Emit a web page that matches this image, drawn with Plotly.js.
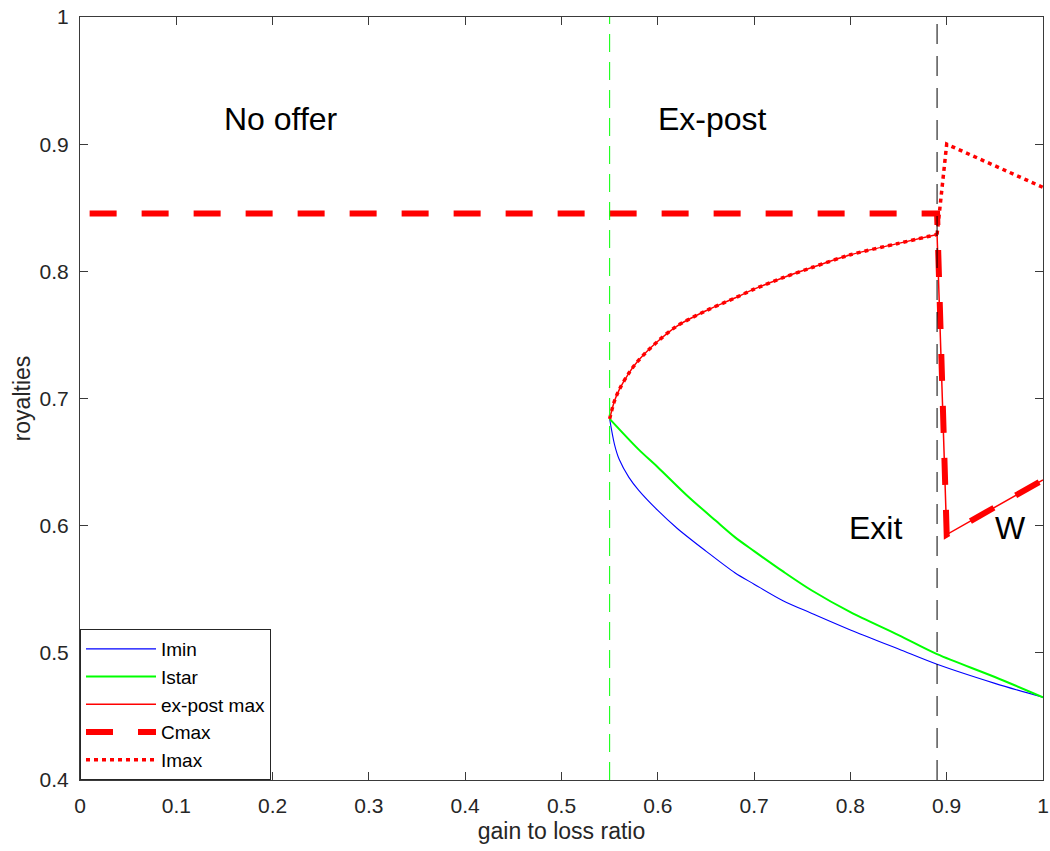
<!DOCTYPE html>
<html>
<head>
<meta charset="utf-8">
<script src="https://cdn.plot.ly/plotly-3.0.1.min.js"></script>
<style>html,body{margin:0;padding:0;background:#fff;}#chart{width:1050px;height:851px;}</style>
</head>
<body>
<div id="chart"></div>
<script>
// ---- data ----
const iminX = [0.55, 0.555, 0.56, 0.57, 0.58, 0.60, 0.62, 0.65, 0.68, 0.70, 0.73, 0.76, 0.80, 0.85, 0.89, 0.95, 1.00];
const iminY = [0.684, 0.664, 0.652, 0.638, 0.628, 0.612, 0.598, 0.580, 0.563, 0.554, 0.541, 0.531, 0.518, 0.503, 0.491, 0.476, 0.465];

const istarX = [0.55, 0.58, 0.60, 0.63, 0.66, 0.68, 0.70, 0.73, 0.76, 0.80, 0.85, 0.89, 0.95, 1.00];
const istarY = [0.684, 0.660, 0.646, 0.624, 0.604, 0.591, 0.580, 0.564, 0.549, 0.532, 0.514, 0.499, 0.481, 0.465];

const upperX = [0.55, 0.555, 0.56, 0.57, 0.58, 0.60, 0.62, 0.65, 0.68, 0.70, 0.73, 0.76, 0.80, 0.85, 0.89];
const upperY = [0.684, 0.698, 0.707, 0.720, 0.730, 0.745, 0.757, 0.769, 0.779, 0.786, 0.795, 0.803, 0.813, 0.822, 0.829];

const expostTailX = [0.89, 0.90, 1.00];
const expostTailY = [0.829, 0.593, 0.636];

const imaxTailX = [0.89, 0.90, 1.00];
const imaxTailY = [0.829, 0.900, 0.866];

const cmaxX = [0.01, 0.89, 0.90, 1.00];
const cmaxY = [0.8455, 0.8455, 0.593, 0.636];

const boundaryX = [0.55, 0.89];
const yRange = [0.4, 1];

const regionLabels = ["No offer", "Ex-post", "Exit", "W"];
const regionLabelX = [0.209, 0.657, 0.826, 0.966];
const regionLabelY = [0.92, 0.92, 0.598, 0.598];

const xTicks = [0, 0.1, 0.2, 0.3, 0.4, 0.5, 0.6, 0.7, 0.8, 0.9, 1];
const yTicks = [0.4, 0.5, 0.6, 0.7, 0.8, 0.9, 1];

// ---- traces ----
const FONT = '"Liberation Sans", Arial, Helvetica, sans-serif';
const RED = 'rgb(255,0,0)';
const smooth = {shape: 'spline', smoothing: 0.9};
const traces = [
  {x: iminX, y: iminY, name: 'Imin', mode: 'lines', legendgroup: 'imin',
   line: Object.assign({color: 'rgb(0,0,255)', width: 1.1}, smooth)},
  {x: istarX, y: istarY, name: 'Istar', mode: 'lines', legendgroup: 'istar',
   line: Object.assign({color: 'rgb(0,255,0)', width: 2}, smooth)},
  {x: upperX, y: upperY, name: 'ex-post max', mode: 'lines', legendgroup: 'expost',
   line: Object.assign({color: RED, width: 1.5}, smooth)},
  {x: expostTailX, y: expostTailY, name: 'ex-post max', mode: 'lines', legendgroup: 'expost', showlegend: false,
   line: {color: RED, width: 1.5}},
  {x: cmaxX, y: cmaxY, name: 'Cmax', mode: 'lines', legendgroup: 'cmax',
   line: {color: RED, width: 6, dash: '27px,25px'}},
  {x: upperX, y: upperY, name: 'Imax', mode: 'lines', legendgroup: 'imax',
   line: Object.assign({color: RED, width: 3.5, dash: '4px,4px'}, smooth)},
  {x: imaxTailX, y: imaxTailY, name: 'Imax', mode: 'lines', legendgroup: 'imax', showlegend: false,
   line: {color: RED, width: 3.5, dash: '4px,4px'}},
  {x: [boundaryX[0], boundaryX[0]], y: yRange, mode: 'lines', showlegend: false, hoverinfo: 'skip',
   line: {color: 'rgb(0,255,0)', width: 1, dash: '18px,10px'}},
  {x: [boundaryX[1], boundaryX[1]], y: yRange, mode: 'lines', showlegend: false, hoverinfo: 'skip',
   line: {color: 'black', width: 1, dash: '20px,12px'}}
];

const annotations = regionLabels.map((t, i) => ({
  x: regionLabelX[i], y: regionLabelY[i], xref: 'x', yref: 'y', text: t, showarrow: false,
  font: {family: FONT, size: 32, color: '#000'}, xanchor: 'center', yanchor: 'middle'
}));

const axisCommon = {
  showline: true, linecolor: '#3a3a3a', linewidth: 1, mirror: 'ticks',
  ticks: 'inside', ticklen: 8, tickcolor: '#3a3a3a', tickwidth: 1,
  showgrid: false, zeroline: false,
  tickfont: {family: FONT, size: 21, color: '#262626'}
};

const layout = {
  width: 1050, height: 851,
  margin: {l: 80, r: 7, t: 17, b: 71},
  paper_bgcolor: '#fff', plot_bgcolor: '#fff',
  font: {family: FONT, color: '#262626'},
  xaxis: Object.assign({}, axisCommon, {
    range: [0, 1], tickvals: xTicks, ticktext: xTicks.map(String),
    ticklabelstandoff: 7, ticklabeloverflow: 'allow',
    title: {text: 'gain to loss ratio', font: {family: FONT, size: 23, color: '#262626'}, standoff: 6}
  }),
  yaxis: Object.assign({}, axisCommon, {
    range: yRange, tickvals: yTicks, ticktext: yTicks.map(String),
    ticklabelstandoff: 6,
    title: {text: 'royalties', font: {family: FONT, size: 23, color: '#262626'}, standoff: 2}
  }),
  legend: {
    x: 0, y: 0, xanchor: 'left', yanchor: 'bottom',
    bgcolor: '#fff', bordercolor: '#262626', borderwidth: 1,
    font: {family: FONT, size: 19, color: '#000'},
    itemwidth: 70, tracegroupgap: 0
  },
  annotations: annotations,
  showlegend: true
};

Plotly.newPlot('chart', traces, layout, {displayModeBar: false, staticPlot: true});
</script>
</body>
</html>
